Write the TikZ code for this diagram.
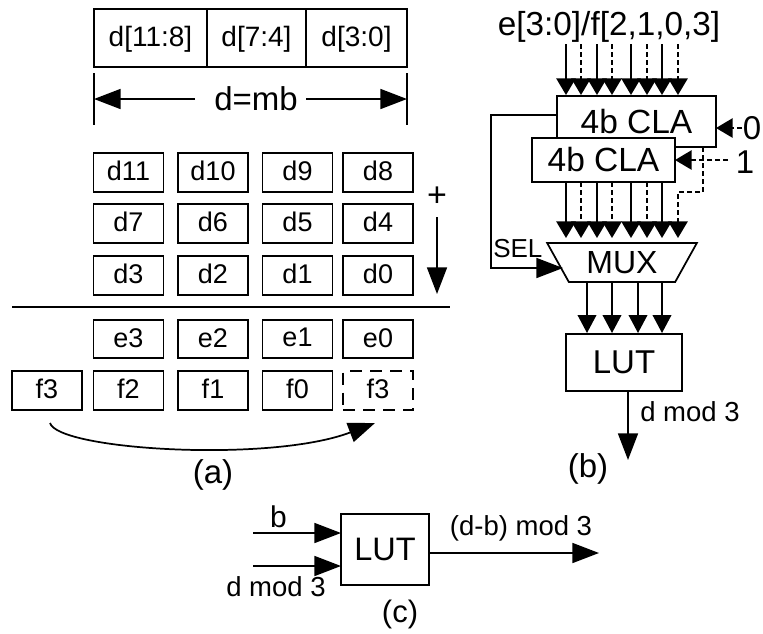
\documentclass[tikz,border=0pt]{standalone}
\usepackage{fontspec}
\setmainfont{Liberation Sans}
\usetikzlibrary{arrows.meta,shapes.geometric}
\newcommand{\fs}[1]{\fontsize{\fpeval{#1*0.75}pt}{\fpeval{#1*0.9}pt}\selectfont}
\tikzset{
 cell/.style={draw,line width=1.3pt,minimum width=52.5pt,minimum height=29pt,inner sep=0pt,text depth=2pt,font=\fs{27}},
 dashcell/.style={cell,dash pattern=on 9pt off 6pt},
 block/.style={draw,line width=1.3pt,inner sep=0pt,fill=white},
 lbl/.style={inner sep=0pt},
 conn/.style={line width=1.3pt},
 arr/.style={conn,-{Triangle[length=20pt,width=15pt]}},
 sarr/.style={conn,-{Triangle[length=12.5pt,width=14.5pt]}},
 dsarr/.style={sarr,dash pattern=on 3.75pt off 2.25pt},
 marr/.style={conn,-{Triangle[length=13.5pt,width=14pt]}},
}
\begin{document}
\begin{tikzpicture}[x=0.75pt,y=-0.75pt]
\useasboundingbox (0,0) rectangle (763,633);
% (a) top register
\node[cell,minimum width=84.75pt,minimum height=43.5pt,font=\fs{28}] (h2) at (150.5,38) {d[11:8]};
\node[cell,minimum width=74.25pt,minimum height=43.5pt,font=\fs{28}] (h1) at (256.5,38) {d[7:4]};
\node[cell,minimum width=75.75pt,minimum height=43.5pt,font=\fs{28}] (h0) at (356.5,38) {d[3:0]};
\coordinate (lt) at (94,73); \coordinate (lb) at (94,125);
\coordinate (rt) at (407,73); \coordinate (rb) at (407,125);
\draw[conn] (lt) -- (lb);
\draw[conn] (rt) -- (rb);
\node[lbl,font=\fs{33}] (dmb) at (256,99) {d=mb};
\coordinate (la) at (94,99); \coordinate (ra) at (407,99);
\draw[arr] (dmb.west) ++(-19,0) -- (la);
\draw[arr] (dmb.east) ++(8,0) -- (ra);
% (a) cells
\foreach \n/\t/\x/\y in {a/d11/128.5/172.5,b/d10/213/172.5,c/d9/297.5/172.5,e/d8/378/172.5,
 g/d7/128.5/223.5,h/d6/213/223.5,i/d5/297.5/223.5,j/d4/378/223.5,
 k/d3/128.5/275.5,l/d2/213/275.5,m/d1/297.5/275.5,n/d0/378/275.5,
 o/e3/128.5/339,p/e2/213/339,q/e1/297.5/339,r/e0/378/339,
 s/f2/128.5/390.5,t/f1/213/390.5,u/f0/297.5/390.5,v/f3/47/390.5}
 \node[cell] (c\n) at (\x,\y) {\t};
\node[dashcell] (cw) at (378,390.5) {f3};
\coordinate (rl) at (12,307); \coordinate (rr) at (450,307);
\draw[conn] (rl) -- (rr);
\node[lbl,font=\fs{34}] (plus) at (437,197) {+};
\coordinate (pt) at (437,217); \coordinate (pb) at (437,294);
\draw[arr] (pt) -- (pb);
\coordinate (cs) at (50,423); \coordinate (ce) at (375,423);
\draw[arr] (cs) .. controls (58,450) and (270,463) .. (ce);
\node[lbl,font=\fs{33}] (capa) at (213,475) {(a)};
% (b)
\node[lbl,font=\fs{33.3}] (title) at (609,27) {e[3:0]/f[2,1,0,3]};
\node[block,minimum width=119.25pt,minimum height=38.25pt,font=\fs{33.5}] (cla1) at (636.5,121.5) {4b CLA};
\node[block,minimum width=107.25pt,minimum height=33pt,font=\fs{33.5}] (cla2) at (603.5,160) {4b CLA};
\node[trapezium,trapezium angle=57,shape border rotate=180,draw,line width=1.3pt,inner sep=0pt,minimum height=29.25pt,trapezium stretches=true,minimum width=112.5pt,font=\fs{32}] (mux) at (622,262.5) {MUX};
\node[block,minimum width=87pt,minimum height=42.75pt,font=\fs{33}] (lutb) at (624,362.5) {LUT};
\foreach \i/\x in {1/566,3/597,5/631,7/662}{
 \coordinate (ti\i) at (\x,44); \coordinate (tb\i) at (\x,95);
 \draw[sarr] (ti\i) -- (tb\i);
 \coordinate (mi\i) at (\x,182); \coordinate (mb\i) at (\x,238);
 \draw[sarr] (mi\i) -- (mb\i);
}
\foreach \i/\x in {2/581,4/612,6/647,8/678}{
 \coordinate (ti\i) at (\x,44); \coordinate (tb\i) at (\x,95);
 \draw[dsarr] (ti\i) -- (tb\i);
}
\foreach \i/\x in {2/581,4/612,6/647}{
 \coordinate (mi\i) at (\x,182); \coordinate (mb\i) at (\x,238);
 \draw[dsarr] (mi\i) -- (mb\i);
}
\coordinate (cout) at (703,147); \coordinate (mb8) at (678,238);
\draw[dsarr] (cout) -- (703,192) -- (678,192) -- (mb8);
\coordinate (self) at (557,115); \coordinate (selt) at (563,268);
\draw[arr] (self) -- (491,115) -- (491,268) -- (selt);
\node[lbl,font=\fs{26},anchor=west] (sel) at (493,249) {SEL};
\node[lbl,font=\fs{33}] (zero) at (752,128) {0};
\node[lbl,font=\fs{33}] (one) at (745,162) {1};
\coordinate (zs) at (742,128); \coordinate (ze) at (716,128);
\coordinate (os) at (728,160); \coordinate (oe) at (675,160);
\draw[dsarr] (zs) -- (ze);
\draw[dsarr] (os) -- (oe);
\foreach \i/\x in {a/587,b/612,c/638,d/662}{
 \coordinate (oi\i) at (\x,282); \coordinate (ob\i) at (\x,333);
 \draw[marr] (oi\i) -- (ob\i);
}
\coordinate (lo) at (628,391); \coordinate (le) at (628,460);
\draw[arr] (lo) -- (le);
\node[lbl,font=\fs{27.5}] (dm) at (690,412) {d mod 3};
\node[lbl,font=\fs{33}] (capb) at (588,469) {(b)};
% (c)
\node[block,minimum width=66pt,minimum height=53.25pt,font=\fs{32.5}] (lutc) at (385,549.5) {LUT};
\coordinate (c1) at (253,533); \coordinate (c1e) at (341,533);
\coordinate (c2) at (253,566); \coordinate (c2e) at (341,566);
\coordinate (c3e) at (599,553);
\draw[arr] (c1) -- (c1e);
\draw[arr] (c2) -- (c2e);
\draw[arr] (lutc.east |- c3e) -- (c3e);
\node[lbl,font=\fs{30}] (b) at (278.5,517) {b};
\node[lbl,font=\fs{27.5}] (dmc) at (276,587) {d mod 3};
\node[lbl,font=\fs{27.5}] (dbm) at (521,528) {(d-b) mod 3};
\node[lbl,font=\fs{31}] (capc) at (400,614) {(c)};
\end{tikzpicture}
\end{document}
